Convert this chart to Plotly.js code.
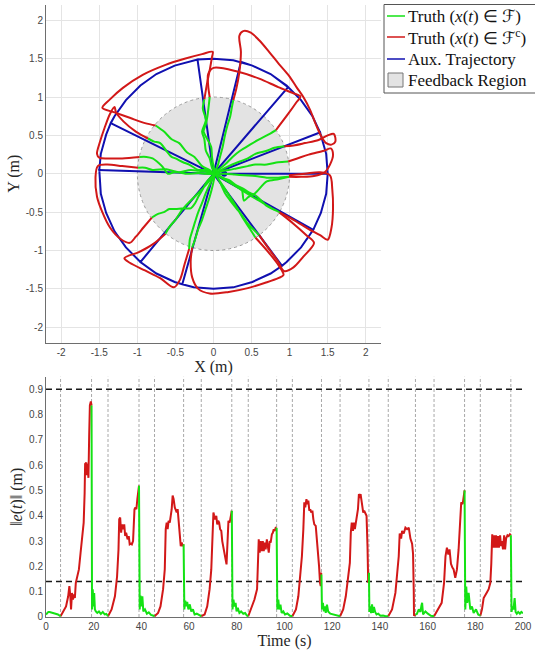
<!DOCTYPE html>
<html><head><meta charset="utf-8">
<script src="https://cdn.plot.ly/plotly-3.0.1.min.js"></script>
<style>html,body{margin:0;padding:0;background:#fff;}#chart{width:535px;height:652px;}</style>
</head><body><div id="chart"></div>
<script>
// ---------- Top panel: trajectories (m) ----------
// Truth inside feedback region (green), segments separated by null
const truthInX = [0.03,0.12,0.2,0.3,0.37,0.4,0.46,0.55,0.7,0.85,0.99, null,
  0.98,0.85,0.7,0.55,0.45,0.3,0.2,0.08,0.03,0.0,-0.02,-0.03,-0.08,-0.13,-0.1,-0.08,-0.05, null,
  0.82,0.7,0.6,0.48,0.35,0.25,0.15,0.06,0.02,0.06,0.08,0.12,0.15,0.18,0.22,0.24,0.26, null,
  0.93,0.8,0.7,0.55,0.45,0.32,0.2,0.1,0.03,-0.02,-0.05,-0.1,-0.12,-0.15,-0.1,-0.14,-0.12, null,
  -0.76,-0.65,-0.55,-0.45,-0.35,-0.25,-0.15,-0.05,0.0,-0.1,-0.2,-0.32,-0.4,-0.5,-0.55,-0.62,-0.7,-0.78,-0.86, null,
  -0.97,-0.88,-0.8,-0.72,-0.66,-0.6,-0.52,-0.45,-0.3,-0.2,-0.1,0.02,-0.1,-0.2,-0.35,-0.5,-0.62,-0.8,-0.9,-0.99, null,
  -0.81,-0.72,-0.65,-0.58,-0.5,-0.4,-0.3,-0.24,-0.2,-0.14,-0.1,-0.04,0.02,-0.06,-0.15,-0.25,-0.35,-0.42,-0.5,-0.57,-0.63, null,
  -0.32,-0.31,-0.28,-0.24,-0.2,-0.15,-0.1,-0.04,0.02,-0.01,-0.05,-0.1,-0.15,-0.2,-0.24,-0.28, null,
  0.55,0.48,0.4,0.33,0.25,0.18,0.1,0.05,0.02,0.08,0.15,0.22,0.3,0.38,0.45,0.52,0.6, null,
  0.86,0.75,0.6,0.48,0.35,0.22,0.1,0.02,0.1,0.2,0.3,0.4,0.48,0.55,0.62,0.7,0.78,0.86, null,
  0.99,0.85,0.7,0.55,0.4,0.28,0.15,0.03];
const truthInY = [0.0,-0.05,-0.1,-0.16,-0.2,-0.35,-0.3,-0.25,-0.1,-0.07,-0.04, null,
  0.16,0.15,0.12,0.12,0.1,0.07,0.05,0.03,0.02,0.1,0.22,0.35,0.45,0.55,0.65,0.75,1.0, null,
  0.57,0.5,0.45,0.38,0.3,0.22,0.12,0.05,0.02,0.12,0.2,0.35,0.5,0.62,0.75,0.86,0.96, null,
  0.36,0.34,0.3,0.26,0.2,0.15,0.1,0.05,0.0,0.08,0.2,0.3,0.45,0.55,0.7,0.85,0.97, null,
  0.63,0.55,0.45,0.4,0.28,0.22,0.1,0.05,0.0,0.05,0.05,0.12,0.15,0.2,0.22,0.3,0.4,0.42,0.46, null,
  0.22,0.22,0.2,0.14,0.08,0.0,0.02,0.02,0.05,0.04,0.03,0.0,0.0,0.01,0.0,0.03,0.06,0.05,0.08,0.08, null,
  -0.57,-0.52,-0.5,-0.46,-0.46,-0.45,-0.45,-0.38,-0.3,-0.2,-0.12,-0.05,0.0,-0.1,-0.2,-0.3,-0.4,-0.48,-0.6,-0.68,-0.78, null,
  -0.98,-0.85,-0.75,-0.62,-0.5,-0.38,-0.25,-0.12,0.0,-0.15,-0.3,-0.45,-0.6,-0.72,-0.85,-0.96, null,
  -0.83,-0.72,-0.6,-0.48,-0.35,-0.24,-0.12,-0.05,0.0,-0.1,-0.25,-0.35,-0.45,-0.55,-0.65,-0.72,-0.8, null,
  -0.5,-0.44,-0.35,-0.28,-0.2,-0.12,-0.05,0.0,-0.05,-0.08,-0.15,-0.2,-0.25,-0.28,-0.34,-0.42,-0.46,-0.5, null,
  -0.04,-0.05,-0.05,-0.03,-0.02,-0.01,0.0,0.0];

// Truth outside feedback region (red)
const truthOutX = [0.99,1.15,1.32,1.46,1.53,1.57,1.54,1.45,1.25,1.1,0.98, null,
  -0.05,-0.07,-0.07,0.0,0.32,0.6,0.85,1.05,1.14,1.08,0.98,0.82, null,
  0.26,0.3,0.34,0.36,0.34,0.39,0.49,0.6,0.73,0.86,0.99,1.09,1.18,1.27,1.35,1.42,1.48,1.55,1.6,1.58,1.5,1.38,1.2,1.05,0.93, null,
  -0.12,-0.09,-0.05,-0.02,-0.01,-0.15,-0.38,-0.63,-0.93,-1.19,-1.36,-1.46,-1.3,-1.1,-0.9,-0.76, null,
  -0.86,-1.02,-1.18,-1.28,-1.3,-1.36,-1.43,-1.49,-1.53,-1.5,-1.38,-1.2,-0.97, null,
  -0.99,-1.2,-1.4,-1.52,-1.55,-1.53,-1.46,-1.36,-1.22,-1.1,-1.02,-0.92,-0.81, null,
  -0.63,-0.8,-0.98,-1.17,-1.1,-0.9,-0.7,-0.52,-0.44,-0.38,-0.32, null,
  -0.28,-0.3,-0.28,-0.2,-0.05,0.2,0.45,0.68,0.85,0.92,0.86,0.72,0.55, null,
  0.6,0.72,0.84,0.93,1.05,1.18,1.32,1.22,1.05,0.86, null,
  0.86,1.05,1.25,1.4,1.5,1.55,1.57,1.56,1.53,1.4,1.2,0.99];
const truthOutY = [-0.04,-0.04,-0.03,0.02,0.12,0.25,0.33,0.3,0.25,0.2,0.16, null,
  1.0,1.15,1.3,1.38,1.33,1.24,1.13,1.05,1.01,0.92,0.78,0.57, null,
  0.96,1.11,1.33,1.59,1.8,1.86,1.84,1.74,1.59,1.43,1.28,1.13,1.0,0.83,0.63,0.48,0.4,0.38,0.42,0.52,0.5,0.44,0.4,0.37,0.36, null,
  0.97,1.15,1.35,1.52,1.59,1.56,1.5,1.42,1.29,1.12,0.97,0.86,0.8,0.73,0.66,0.63, null,
  0.46,0.55,0.68,0.8,0.87,0.78,0.6,0.42,0.26,0.21,0.2,0.2,0.22, null,
  0.08,0.1,0.12,0.1,-0.05,-0.3,-0.5,-0.7,-0.85,-0.9,-0.82,-0.7,-0.57, null,
  -0.78,-0.92,-1.02,-1.1,-1.16,-1.26,-1.36,-1.48,-1.38,-1.18,-0.98, null,
  -0.96,-1.15,-1.35,-1.5,-1.56,-1.54,-1.49,-1.42,-1.36,-1.32,-1.2,-1.02,-0.83, null,
  -0.8,-0.97,-1.13,-1.27,-1.22,-1.08,-0.9,-0.8,-0.65,-0.5, null,
  -0.5,-0.6,-0.72,-0.8,-0.86,-0.7,-0.45,-0.2,-0.02,0.02,0.0,-0.02];

// Auxiliary trajectory (blue)
const auxX = [0,1.5,1.48,1.4,0,
  -0.21,0,0.26,0.51,0.75,0.98,0,
  0.36,0.51,0.75,0.96,1.15,1.3,1.4,0,
  -0.21,-0.51,-0.75,-0.96,-1.15,-1.3,-1.35,0,
  -1.35,-1.41,-1.48,-1.5,0,
  -1.5,-1.48,-1.41,-1.3,-1.15,-0.96,0,
  -0.96,-0.75,-0.51,-0.41,0,
  -0.41,-0.26,0,0.26,0.51,0.75,0.9,0,
  0.9,0.96,1.15,1.31,0,
  1.31,1.41,1.48,1.5,0];
const auxY = [0,0,0.26,0.54,0,
  1.49,1.5,1.48,1.41,1.3,1.13,0,
  1.46,1.41,1.3,1.15,0.96,0.75,0.54,0,
  1.49,1.41,1.3,1.15,0.96,0.75,0.66,0,
  0.66,0.51,0.26,0.05,0,
  0.05,-0.26,-0.51,-0.75,-0.96,-1.15,0,
  -1.15,-1.3,-1.41,-1.44,0,
  -1.44,-1.48,-1.5,-1.48,-1.41,-1.3,-1.2,0,
  -1.2,-1.15,-0.96,-0.73,0,
  -0.73,-0.51,-0.26,0,0];
const auxStartX = [0.14];
const auxStartY = [0.0];
const feedbackRadius = 1.0;
const posTickVals = [-2,-1.5,-1,-0.5,0,0.5,1,1.5,2];
const posTickText = ['-2','-1.5','-1','-0.5','0','0.5','1','1.5','2'];

// Legend labels (top panel)
const legendLabels = ['Truth (<i>x</i>(<i>t</i>) ∈ ℱ)', 'Truth (<i>x</i>(<i>t</i>) ∈ ℱ<sup>c</sup>)', 'Aux. Trajectory', 'Feedback Region'];

// ---------- Bottom panel: error norm ----------
const errInT = [0,0.5,1,1.5,2,3,4,5,6.1, null,
  19.1,19.3,19.6,19.9,20.2,20.5,20.9,21.5,22.2,23,23.8,24.6,25.3,26.0, null,
  39.0,39.3,39.6,40.0,40.4,40.8,41.5,42.3,43.1,44,44.8,45.5, null,
  57.7,58.0,58.4,58.8,59.2,59.7,60.3,60.9,61.6,62.3,63.2,64.2,65.1, null,
  77.9,78.2,78.6,79.0,79.5,79.9,80.4,81.1,81.8,82.7,83.5,84.2,84.8, null,
  96.7,97.0,97.4,97.8,98.3,98.8,99.5,100.2,101.2,102.3,103.3, null,
  115.5,115.7,116.1,116.5,116.9,117.3,117.8,118.3,119.2,120.2,121.5,122.5,123.3, null,
  135.4,135.6,135.9,136.3,136.7,137.1,137.5,138.0,138.6,139.3,140.2,141.3,142.4,143.5, null,
  154.9,155.5,156.3,157.0,157.4,157.7,158.1,158.6,159.1,160.1,161.4,162.7, null,
  175.5,175.8,176.2,176.6,177.2,177.9,178.6,179.3,180.3,181.2,182.1, null,
  194.9,195.2,195.6,196.0,196.5,196.9,197.4,198,198.7,199.3,200];
const errInE = [0.01,0.015,0.02,0.02,0.018,0.016,0.013,0.01,0.003, null,
  0.836,0.03,0.11,0.042,0.095,0.03,0.022,0.016,0.022,0.012,0.02,0.01,0.012,0.003, null,
  0.519,0.03,0.085,0.042,0.082,0.022,0.03,0.013,0.018,0.008,0.006,0.003, null,
  0.287,0.03,0.065,0.042,0.06,0.03,0.05,0.022,0.03,0.01,0.013,0.006,0.003, null,
  0.42,0.03,0.069,0.042,0.056,0.022,0.036,0.016,0.022,0.013,0.016,0.006,0.003, null,
  0.353,0.03,0.069,0.03,0.049,0.016,0.022,0.01,0.014,0.005,0.003, null,
  0.168,0.03,0.056,0.022,0.042,0.016,0.049,0.022,0.013,0.01,0.006,0.005,0.003, null,
  0.175,0.02,0.042,0.015,0.05,0.016,0.04,0.02,0.01,0.013,0.005,0.006,0.003,0.003, null,
  0.01,0.012,0.03,0.02,0.045,0.056,0.01,0.018,0.022,0.013,0.005,0.003, null,
  0.5,0.03,0.12,0.056,0.095,0.03,0.042,0.016,0.03,0.01,0.005, null,
  0.323,0.02,0.042,0.03,0.075,0.02,0.013,0.02,0.013,0.02,0.015];
const errOutT = [6.1,7.2,8.4,9.3,9.8,10.2,10.5,10.9,11.3,11.7,12.1,12.5,13.1,13.8,14.5,15.2,15.8,16.2,16.4,16.9,17.1,17.4,17.8,18.1,18.4,18.8,19.1, null,
  26.0,27.5,28.9,29.8,30.4,30.7,31.1,31.5,31.9,32.3,32.8,33.2,33.6,34.2,34.7,35.1,35.6,36.0,36.5,37.1,37.5,37.9,38.3,38.8,39.0, null,
  45.5,47.0,48.0,49.1,49.8,50.2,50.6,51.0,51.4,51.9,52.3,52.7,53.1,53.5,54.0,54.4,54.8,55.2,55.6,56.0,56.5,56.9,57.3,57.7, null,
  65.1,66.5,67.6,68.6,69.3,69.7,70.2,70.5,70.9,71.4,71.8,72.2,72.6,73.0,73.5,73.9,74.3,74.9,75.3,75.7,76.1,76.5,77.0,77.4,77.9, null,
  84.8,86.0,87.4,88.5,88.9,89.2,89.6,90.0,90.5,90.9,91.3,91.7,92.1,92.6,93.0,93.4,93.8,94.2,94.7,95.1,95.5,95.9,96.3,96.7, null,
  103.3,104.8,105.8,106.6,107.3,107.9,108.3,108.7,109.2,109.6,110.0,110.4,110.8,111.2,111.7,112.1,112.5,113.1,113.5,114.0,114.5,114.9,115.2,115.3,115.5, null,
  123.3,124.6,125.7,126.7,127.4,127.8,128.2,128.7,129.1,129.5,129.9,130.3,130.8,131.2,131.6,131.9,132.5,133.0,133.4,133.9,134.4,134.8,135.1,135.4, null,
  143.5,145.1,146.5,147.9,148.3,148.9,149.3,150.0,150.7,151.4,152.1,152.8,153.5,153.9,154.2,154.3,154.9, null,
  162.7,164.5,165.9,166.9,167.5,168.1,168.7,169.2,169.8,170.4,170.9,171.6,172.3,173.0,173.7,174.1,174.7,175.1,175.5, null,
  182.1,182.8,183.5,184.2,184.9,185.6,186.3,186.7,187.1,187.5,188.0,188.3,188.7,189.1,189.5,189.9,190.4,190.8,191.2,191.6,192.1,192.5,192.9,193.5,194.0,194.5,194.9];
const errOutE = [0.003,0.022,0.042,0.082,0.122,0.082,0.03,0.095,0.069,0.089,0.075,0.135,0.155,0.188,0.254,0.32,0.373,0.49,0.605,0.61,0.56,0.605,0.55,0.717,0.836,0.852,0.836, null,
  0.003,0.03,0.082,0.16,0.267,0.386,0.393,0.333,0.366,0.347,0.366,0.32,0.333,0.307,0.32,0.287,0.29,0.287,0.3,0.426,0.433,0.426,0.466,0.5,0.519, null,
  0.003,0.016,0.042,0.11,0.188,0.347,0.373,0.347,0.38,0.373,0.4,0.426,0.48,0.466,0.433,0.426,0.413,0.426,0.373,0.347,0.28,0.294,0.28,0.287, null,
  0.003,0.01,0.042,0.11,0.188,0.32,0.413,0.4,0.386,0.4,0.366,0.38,0.373,0.347,0.34,0.3,0.274,0.254,0.228,0.208,0.333,0.38,0.373,0.393,0.42, null,
  0.003,0.03,0.069,0.11,0.254,0.307,0.254,0.3,0.26,0.3,0.26,0.294,0.267,0.307,0.28,0.254,0.3,0.294,0.327,0.333,0.347,0.34,0.353,0.353, null,
  0.003,0.03,0.082,0.16,0.24,0.347,0.453,0.433,0.466,0.446,0.46,0.42,0.426,0.413,0.42,0.386,0.366,0.36,0.32,0.267,0.2,0.135,0.122,0.175,0.168, null,
  0.003,0.03,0.082,0.148,0.214,0.333,0.373,0.34,0.373,0.347,0.373,0.38,0.426,0.486,0.47,0.486,0.44,0.413,0.42,0.41,0.4,0.28,0.135,0.175, null,
  0.003,0.03,0.095,0.24,0.33,0.31,0.34,0.33,0.353,0.347,0.353,0.31,0.29,0.25,0.1,0.005,0.01, null,
  0.003,0.03,0.056,0.135,0.24,0.274,0.247,0.267,0.21,0.195,0.188,0.155,0.188,0.267,0.373,0.453,0.446,0.48,0.5, null,
  0.005,0.03,0.075,0.089,0.098,0.11,0.135,0.21,0.327,0.274,0.323,0.274,0.323,0.274,0.32,0.274,0.323,0.28,0.3,0.267,0.323,0.267,0.31,0.323,0.32,0.327,0.323];
const switchTimes = [6.1,19.1,26.0,39.0,45.5,57.7,65.1,77.9,84.8,96.7,103.3,115.5,123.3,135.4,143.5,154.9,162.7,175.5,182.1,194.9];
const errThresholds = [0.9, 0.14];
const timeTicks = [0,20,40,60,80,100,120,140,160,180,200];
const errTicks = [0,0.1,0.2,0.3,0.4,0.5,0.6,0.7,0.8,0.9];
const errRange = [0, 0.95];

// ---------- Styling ----------
const GREEN = '#14e214', RED = '#d21818', BLUE = '#1010b0', REGION = '#e3e3e3';
const serif = 'Liberation Serif, Times New Roman, serif';
const tickFont = {family: 'Liberation Sans, Arial, sans-serif', size: 10, color: '#454545'};
const titleFont = {family: serif, size: 16, color: '#262626'};

const traces = [
  {x: auxX, y: auxY, type: 'scatter', mode: 'lines', line: {color: BLUE, width: 2},
   name: 'Aux. Trajectory', showlegend: false, xaxis: 'x', yaxis: 'y'},
  {x: auxStartX, y: auxStartY, type: 'scatter', mode: 'markers', marker: {color: BLUE, size: 6},
   showlegend: false, xaxis: 'x', yaxis: 'y'},
  {x: truthOutX, y: truthOutY, type: 'scatter', mode: 'lines',
   line: {color: RED, width: 2, shape: 'spline', smoothing: 0.9},
   name: 'Truth outside', showlegend: false, xaxis: 'x', yaxis: 'y'},
  {x: truthInX, y: truthInY, type: 'scatter', mode: 'lines',
   line: {color: GREEN, width: 2, shape: 'spline', smoothing: 0.8},
   name: 'Truth inside', showlegend: false, xaxis: 'x', yaxis: 'y'},
  {x: errOutT, y: errOutE, type: 'scatter', mode: 'lines', line: {color: RED, width: 2},
   showlegend: false, xaxis: 'x2', yaxis: 'y2'},
  {x: errInT, y: errInE, type: 'scatter', mode: 'lines', line: {color: GREEN, width: 2},
   showlegend: false, xaxis: 'x2', yaxis: 'y2'}
];

const shapes = [
  {type: 'circle', xref: 'x', yref: 'y', x0: -feedbackRadius, x1: feedbackRadius,
   y0: -feedbackRadius, y1: feedbackRadius, fillcolor: REGION,
   line: {color: '#9a9a9a', width: 1, dash: 'dot'}, layer: 'between'}
];
switchTimes.forEach(t => shapes.push({type: 'line', xref: 'x2', yref: 'y2', x0: t, x1: t,
  y0: errRange[0], y1: errRange[1], line: {color: '#a8a8a8', width: 1, dash: '3px,2px'}, layer: 'between'}));
errThresholds.forEach(v => shapes.push({type: 'line', xref: 'x2', yref: 'y2',
  x0: timeTicks[0], x1: timeTicks[timeTicks.length - 1], y0: v, y1: v,
  line: {color: '#1a1a1a', width: 1.5, dash: '6px,4px'}, layer: 'between'}));

// Legend box (paper coordinates; paper spans x 46..523 px, y 5..617 px)
const W = 477, H = 612, L = 46, B = 617;
const px = v => (v - L) / W, py = v => (B - v) / H;
shapes.push({type: 'rect', xref: 'paper', yref: 'paper', x0: px(384), x1: px(545), y0: py(93), y1: py(4.5),
  fillcolor: '#fff', line: {color: '#555', width: 1}, layer: 'above'});
const rowY = [16, 37, 59, 80];
const legendColors = [GREEN, RED, BLUE];
legendColors.forEach((c, i) => shapes.push({type: 'line', xref: 'paper', yref: 'paper',
  x0: px(387), x1: px(405), y0: py(rowY[i]), y1: py(rowY[i]), line: {color: c, width: 1.5}, layer: 'above'}));
shapes.push({type: 'rect', xref: 'paper', yref: 'paper', x0: px(388), x1: px(403), y0: py(rowY[3] + 7), y1: py(rowY[3] - 7),
  fillcolor: REGION, line: {color: '#777', width: 1}, layer: 'above'});
const annotations = legendLabels.map((t, i) => ({xref: 'paper', yref: 'paper', x: px(406), y: py(rowY[i]),
  xanchor: 'left', yanchor: 'middle', text: t, showarrow: false,
  font: {family: serif, size: 17, color: '#111'}}));

const axCommon = {showline: true, linecolor: '#6e6e6e', linewidth: 1, zeroline: false,
  ticks: '', tickfont: tickFont, mirror: false};

const layout = {
  width: 535, height: 652,
  margin: {l: L, r: 535 - L - W, t: 5, b: 652 - B, autoexpand: false},
  paper_bgcolor: '#fff', plot_bgcolor: '#fff',
  showlegend: false,
  xaxis: Object.assign({}, axCommon, {domain: [0, 0.7023], anchor: 'y', range: [-2.2, 2.2],
    tickmode: 'array', tickvals: posTickVals, ticktext: posTickText,
    showgrid: true, gridcolor: '#e4e4e4',
    title: {text: 'X (m)', font: titleFont, standoff: 1}}),
  yaxis: Object.assign({}, axCommon, {domain: [0.4484, 1], anchor: 'x', range: [-2.2, 2.2],
    tickmode: 'array', tickvals: posTickVals, ticktext: posTickText,
    showgrid: true, gridcolor: '#e4e4e4',
    title: {text: 'Y (m)', font: titleFont, standoff: 2}}),
  xaxis2: Object.assign({}, axCommon, {domain: [0, 1], anchor: 'y2', range: [timeTicks[0], timeTicks[timeTicks.length - 1]],
    tickmode: 'array', tickvals: timeTicks, showgrid: false,
    title: {text: 'Time (s)', font: titleFont, standoff: 1}}),
  yaxis2: Object.assign({}, axCommon, {domain: [0, 0.3928], anchor: 'x2', range: errRange,
    tickmode: 'array', tickvals: errTicks, showgrid: false,
    title: {text: '‖<i>e</i>(<i>t</i>)‖ (m)', font: titleFont, standoff: 2}}),
  shapes: shapes,
  annotations: annotations
};

Plotly.newPlot('chart', traces, layout, {displayModeBar: false, staticPlot: true});
</script></body></html>
